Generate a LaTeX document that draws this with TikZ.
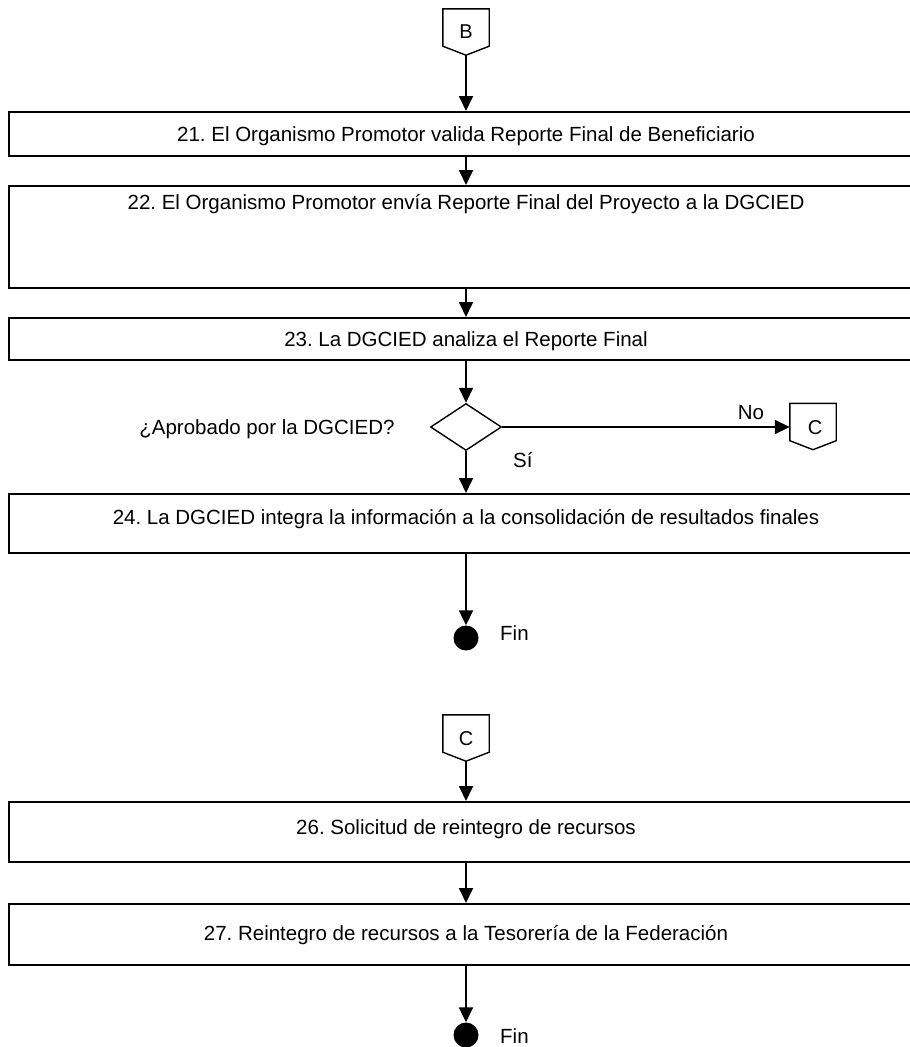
\documentclass[tikz,border=0pt]{standalone}
\usepackage{fontspec}
\setmainfont{Liberation Sans}
\usetikzlibrary{arrows.meta,shapes.geometric,calc}
\begin{document}
\frenchspacing
\begin{tikzpicture}[x=1pt,y=-1pt,
  txt/.style={font=\fontsize{20.5}{24}\selectfont, inner sep=0pt, text=black, anchor=base},
  procbox/.style={draw=black, line width=2pt, minimum width=914pt, inner sep=0pt},
  offpage/.style={minimum width=46pt, minimum height=37pt, inner sep=0pt},
  conntxt/.style={font=\fontsize{20}{24}\selectfont, inner sep=0pt, anchor=base},
  conn/.style={line width=1.4pt},
  flow/.style={line width=1.8pt, -{Triangle[width=14pt,length=15pt]}},
  decis/.style={diamond, draw=black, line width=1.4pt, minimum width=71pt, minimum height=47pt, inner sep=0pt},
  endpt/.style={circle, fill=black, minimum size=25pt, inner sep=0pt}]
\useasboundingbox (0,0) rectangle (910,1047);
\clip (0,0) rectangle (910,1047);
% off-page connector B
\node[offpage] (B) at (466,27.5) {};
\node[conntxt] (tB) at (466,38) {B};
\draw[conn] (B.north west) -- (B.north east) -- (B.south east) -- ([yshift=-9pt]B.south) coordinate (Bp) -- (B.south west) -- cycle;
% process boxes
\node[procbox, minimum height=44pt] (b21) at (466,134) {};
\node[txt] (t21) at (466,141.5) {21. El Organismo Promotor valida Reporte Final de Beneficiario};
\node[procbox, minimum height=102pt] (b22) at (466,237) {};
\node[txt] (t22) at (466,209) {22. El Organismo Promotor envía Reporte Final del Proyecto a la DGCIED};
\node[procbox, minimum height=42pt] (b23) at (466,339) {};
\node[txt] (t23) at (466,346.5) {23. La DGCIED analiza el Reporte Final};
\node[decis] (d) at (466,427) {};
\node[txt] (q) at (267,434.5) {¿Aprobado por la DGCIED?};
\node[offpage] (C1) at (813,422) {};
\node[conntxt] (tC1) at (815,434) {C};
\draw[conn] (C1.north west) -- (C1.north east) -- (C1.south east) -- ([yshift=-9pt]C1.south) -- (C1.south west) -- cycle;
\node[txt] (no) at (751,419) {No};
\node[txt, anchor=base west] (si) at (513,467.5) {Sí};
\node[procbox, minimum height=59pt] (b24) at (466,523.5) {};
\node[txt] (t24) at (466,524) {24. La DGCIED integra la información a la consolidación de resultados finales};
\node[endpt] (f1) at (466,638) {};
\node[txt, anchor=base west] (fin1) at (500,640.5) {Fin};
% second part
\node[offpage] (C2) at (466,733.5) {};
\node[conntxt] (tC2) at (466,745) {C};
\draw[conn] (C2.north west) -- (C2.north east) -- (C2.south east) -- ([yshift=-9pt]C2.south) coordinate (C2p) -- (C2.south west) -- cycle;
\node[procbox, minimum height=60pt] (b26) at (466,832) {};
\node[txt] (t26) at (466,834.5) {26. Solicitud de reintegro de recursos};
\node[procbox, minimum height=61pt] (b27) at (466,934.5) {};
\node[txt] (t27) at (466,940.5) {27. Reintegro de recursos a la Tesorería de la Federación};
\node[endpt] (f2) at (466,1035) {};
\node[txt, anchor=base west] (fin2) at (500,1043.5) {Fin};
% connectors
\draw[flow] (Bp) -- (b21.north);
\draw[flow] (b21.south) -- (b22.north);
\draw[flow] (b22.south) -- (b23.north);
\draw[flow] (b23.south) -- (d.north);
\draw[flow] (d.south) -- (b24.north);
\draw[flow] (d.east) -- (d.east -| C1.west);
\draw[flow] (b24.south) -- (f1.north);
\draw[flow] (C2p) -- (b26.north);
\draw[flow] (b26.south) -- (b27.north);
\draw[flow] (b27.south) -- (f2.north);
\end{tikzpicture}
\end{document}
